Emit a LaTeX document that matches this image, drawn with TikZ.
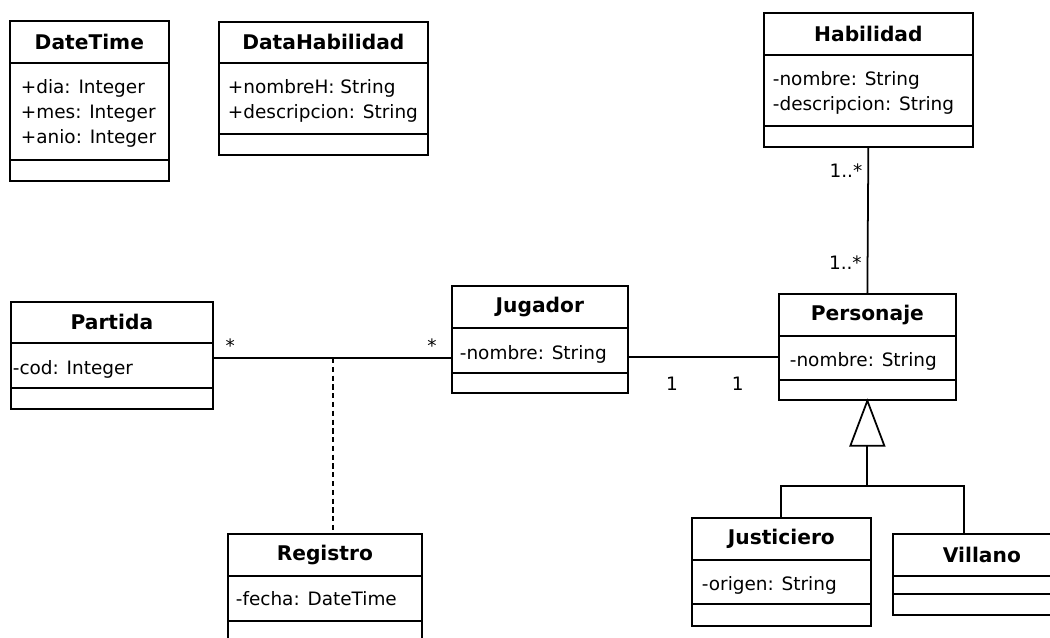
\documentclass[tikz,border=0pt]{standalone}
\usepackage{fontspec}
\setmainfont{DejaVu Sans}

\begin{document}
\begin{tikzpicture}[x=0.02cm, y=-0.02cm, line width=1pt,
  box/.style={draw, inner sep=0pt, anchor=north west},
  cname/.style={font=\fontsize{11.5}{13}\selectfont\bfseries, inner sep=0pt},
  attr/.style={font=\fontsize{10.5}{14.2}\selectfont, align=left, anchor=north west, inner sep=0pt},
  mult/.style={font=\fontsize{10.5}{12}\selectfont, inner sep=0pt}]
\useasboundingbox (0,0) rectangle (1050,637);
\clip (0,0) rectangle (1050,637);

\node[box, minimum width=3.18cm, minimum height=3.2cm] (dt) at (9,20) {};
\draw (dt.west |- 0,63) -- (dt.east |- 0,63);
\draw (dt.west |- 0,160) -- (dt.east |- 0,160);
\node[cname] at (dt.north |- 0,41.5) {DateTime};
\node[attr] at (20,79) {+dia: Integer\\+mes: Integer\\+anio: Integer};

\node[box, minimum width=4.18cm, minimum height=2.66cm] (dh) at (218,21) {};
\draw (dh.west |- 0,63) -- (dh.east |- 0,63);
\draw (dh.west |- 0,134) -- (dh.east |- 0,134);
\node[cname] at (dh.north |- 0,42) {DataHabilidad};
\node[attr] at (227,79) {+nombreH: String\\+descripcion: String};

\node[box, minimum width=4.18cm, minimum height=2.68cm] (hab) at (763,12) {};
\draw (hab.west |- 0,55) -- (hab.east |- 0,55);
\draw (hab.west |- 0,126) -- (hab.east |- 0,126);
\node[cname] at (hab.north |- 0,33.5) {Habilidad};
\node[attr] at (772,71) {-nombre: String\\-descripcion: String};

\node[box, minimum width=4.04cm, minimum height=2.14cm] (par) at (10,301) {};
\draw (par.west |- 0,343) -- (par.east |- 0,343);
\draw (par.west |- 0,388) -- (par.east |- 0,388);
\node[cname] at (par.north |- 0,322) {Partida};
\node[attr] at (12,360) {-cod: Integer};

\node[box, minimum width=3.52cm, minimum height=2.14cm] (jug) at (451,285) {};
\draw (jug.west |- 0,328) -- (jug.east |- 0,328);
\draw (jug.west |- 0,373) -- (jug.east |- 0,373);
\node[cname] at (jug.north |- 0,306.5) {Jugador};
\node[attr] at (459,345) {-nombre: String};

\node[box, minimum width=3.54cm, minimum height=2.12cm] (per) at (778,293) {};
\draw (per.west |- 0,336) -- (per.east |- 0,336);
\draw (per.west |- 0,380) -- (per.east |- 0,380);
\node[cname] at (per.north |- 0,314.5) {Personaje};
\node[attr] at (789,352) {-nombre: String};

\node[box, minimum width=3.88cm, minimum height=2.4cm] (reg) at (227,533) {};
\draw (reg.west |- 0,576) -- (reg.east |- 0,576);
\draw (reg.west |- 0,621) -- (reg.east |- 0,621);
\node[cname] at (reg.north |- 0,554.5) {Registro};
\node[attr] at (235,591) {-fecha: DateTime};

\node[box, minimum width=3.58cm, minimum height=2.16cm] (jus) at (691,517) {};
\draw (jus.west |- 0,560) -- (jus.east |- 0,560);
\draw (jus.west |- 0,604) -- (jus.east |- 0,604);
\node[cname] at (jus.north |- 0,538.5) {Justiciero};
\node[attr] at (701,576) {-origen: String};

\node[box, minimum width=3.56cm, minimum height=1.62cm] (vil) at (892,533) {};
\draw (vil.west |- 0,576) -- (vil.east |- 0,576);
\draw (vil.west |- 0,594) -- (vil.east |- 0,594);
\node[cname] at (vil.north |- 0,554.5) {Villano};

\draw (hab.south) -- (per.north)
  node[mult, pos=0.16, anchor=east, xshift=-0.1cm] {1..*}
  node[mult, pos=0.79, anchor=east, xshift=-0.1cm] {1..*};

\coordinate (assoc) at (333,358);
\draw (par.east |- assoc) -- (jug.west |- assoc)
  node[mult, pos=0.07, yshift=0.24cm] {*}
  node[mult, pos=0.92, yshift=0.24cm] {*};
\draw[dash pattern=on 3pt off 2pt] (assoc) -- (reg.north -| assoc);

\draw ([yshift=-0.35cm]jug.east) -- ([yshift=-0.35cm]jug.east -| per.west)
  node[mult, pos=0.29, yshift=-0.54cm] {1}
  node[mult, pos=0.73, yshift=-0.54cm] {1};

\draw[fill=white] (per.south) -- ++(-17,45) -- ++(34,0) -- cycle;
\draw (per.south) ++(0,45) coordinate (gen) -- ++(0,40) coordinate (split);
\draw (jus.north) |- (split) -| ([xshift=1.44cm]vil.north west);
\end{tikzpicture}
\end{document}
